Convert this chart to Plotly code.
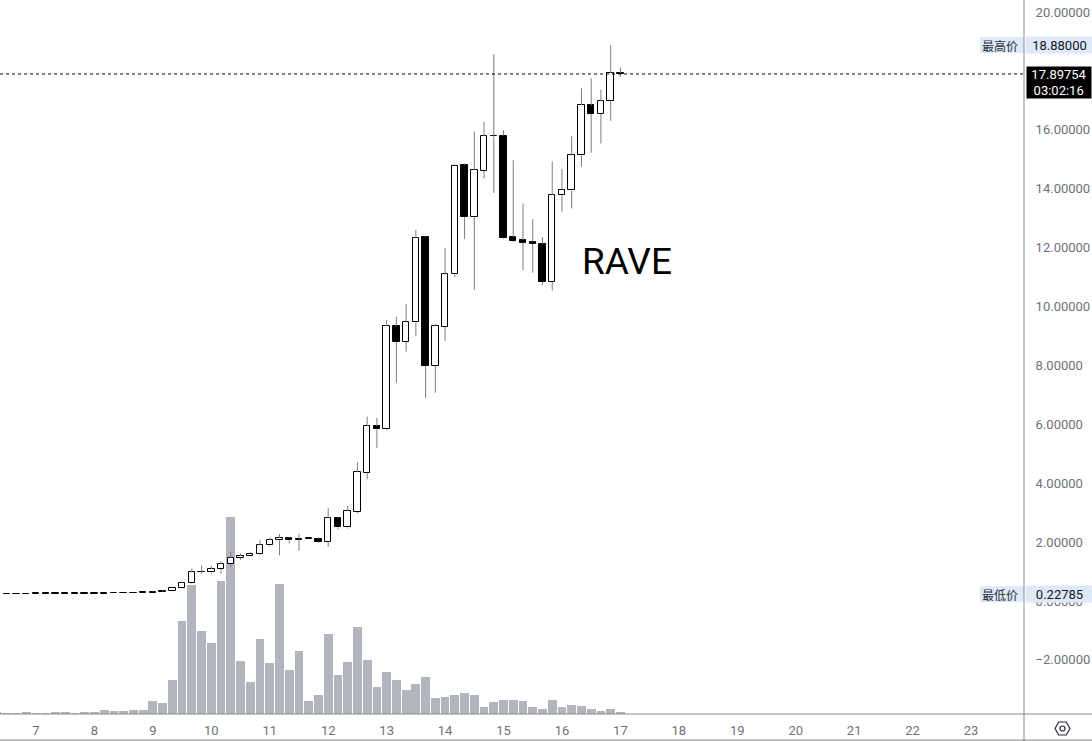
import plotly.graph_objects as go
import pandas as pd

# 4小时K线，第一根 12-06 08:00
start_time = "2025-12-06 08:00"

opens = [0.230, 0.232, 0.235, 0.233, 0.238, 0.240, 0.239, 0.243, 0.245, 0.247, 0.250, 0.252, 0.258, 0.262, 0.265, 0.270,
         0.285, 0.32, 0.34, 0.43, 0.60, 0.98, 0.97, 1.08, 1.25, 1.45, 1.53, 1.60, 1.89, 2.06, 2.14, 2.11, 2.11, 2.12,
         2.01, 2.81, 2.50, 3.03, 4.36, 5.94, 5.83, 9.33, 8.80, 9.46, 12.36, 7.99, 9.31, 11.09, 14.80, 13.05, 14.61,
         15.78, 15.80, 12.36, 12.26, 12.20, 12.12, 10.84, 13.78, 13.95, 15.13, 16.83, 16.54, 16.97, 17.92]
highs = [0.236, 0.238, 0.240, 0.241, 0.243, 0.244, 0.246, 0.249, 0.250, 0.253, 0.256, 0.262, 0.266, 0.270, 0.276, 0.290,
         0.34, 0.36, 0.45, 0.64, 1.11, 1.21, 1.19, 1.35, 1.66, 1.62, 1.66, 2.07, 2.15, 2.28, 2.17, 2.28, 2.14, 2.16,
         3.16, 2.84, 3.23, 4.71, 6.26, 6.22, 9.54, 9.65, 10.08, 12.60, 12.40, 9.40, 11.98, 14.84, 14.86, 15.94, 16.28,
         18.57, 15.99, 14.97, 13.50, 12.97, 12.35, 14.92, 14.67, 15.79, 17.41, 17.75, 17.37, 18.88, 18.12]
lows = [0.22785, 0.2285, 0.231, 0.230, 0.234, 0.236, 0.235, 0.239, 0.241, 0.243, 0.246, 0.248, 0.252, 0.256, 0.260, 0.265,
        0.28, 0.30, 0.33, 0.42, 0.58, 0.92, 0.92, 0.92, 1.16, 1.39, 1.52, 1.58, 1.86, 1.55, 1.96, 1.71, 2.09, 1.98,
        1.84, 2.43, 2.46, 2.98, 4.13, 5.19, 5.80, 7.41, 8.47, 9.01, 6.90, 7.07, 8.84, 10.99, 12.29, 10.56, 14.35,
        13.86, 12.30, 12.20, 11.24, 11.15, 10.73, 10.54, 13.22, 13.33, 14.75, 15.22, 15.54, 16.31, 17.80]
closes = [0.232, 0.235, 0.233, 0.238, 0.240, 0.239, 0.243, 0.245, 0.247, 0.250, 0.252, 0.258, 0.262, 0.265, 0.270, 0.285,
          0.32, 0.33, 0.43, 0.61, 0.98, 0.99, 1.09, 1.26, 1.45, 1.53, 1.61, 1.90, 2.07, 2.14, 2.06, 2.06, 2.12, 2.01,
          2.81, 2.50, 3.05, 4.37, 5.93, 5.83, 9.33, 8.80, 9.46, 12.32, 7.99, 9.34, 11.09, 14.77, 13.05, 14.63, 15.79,
          15.80, 12.34, 12.23, 12.17, 12.11, 10.84, 13.79, 13.95, 15.13, 16.83, 16.54, 16.97, 17.92, 17.89754]
volumes = [1.3, 1, 1, 2, 1, 1, 2, 2, 1, 2, 2, 3.7, 3, 3, 4, 4,
           13, 11, 34, 93, 129, 83, 71, 133, 197, 53, 32, 75, 51, 130, 44, 63, 13, 19,
           80, 39, 52, 87, 54, 27, 42, 34, 24, 30, 37, 16, 17, 19, 21, 19, 7,
           12, 14, 14, 13, 7, 5, 14, 7, 9, 8, 5, 3, 5, 2]

symbol = "RAVE"
last_price = 17.89754
countdown = "03:02:16"
high_price = 18.88
low_price = 0.22785
price_ticks = [-2, 0, 2, 4, 6, 8, 10, 12, 14, 16, 18, 20]

times = pd.date_range(start_time, periods=len(opens), freq="4h")
period_ms = 4 * 3600 * 1000

# 颜色
GRAY_TEXT = "#6f7079"
AXIS_LINE = "#8c8c8c"
VOL_COLOR = "#b2b5be"
BAND_BLUE = "#dde9f8"

fig = go.Figure()

# 成交量（底层）
fig.add_trace(go.Bar(
    x=times, y=volumes, width=period_ms * 0.9,
    marker=dict(color=VOL_COLOR, line=dict(width=0)),
    yaxis="y", hoverinfo="skip", showlegend=False
))

# 影线：上下两段，避开实体
wx, wy = [], []
for t, o, h, l, c in zip(times, opens, highs, lows, closes):
    top, bot = max(o, c), min(o, c)
    wx += [t, t, None, t, t, None]
    wy += [h, top, None, bot, l, None]
fig.add_trace(go.Scatter(
    x=wx, y=wy, mode="lines", line=dict(color="#7d7d7d", width=1),
    yaxis="y2", hoverinfo="skip", showlegend=False
))

# 实体
body_base = [min(o, c) for o, c in zip(opens, closes)]
body_size = [max(abs(c - o), 0.02) for o, c in zip(opens, closes)]
body_fill = ["#ffffff" if c >= o else "#000000" for o, c in zip(opens, closes)]
fig.add_trace(go.Bar(
    x=times, y=body_size, base=body_base, width=period_ms * 0.66,
    marker=dict(color=body_fill, line=dict(color="#000000", width=1)),
    yaxis="y2", showlegend=False,
    customdata=list(zip(opens, highs, lows, closes)),
    hovertemplate="O %{customdata[0]}<br>H %{customdata[1]}<br>L %{customdata[2]}<br>C %{customdata[3]}<extra></extra>"
))

vol_max = max(volumes)

fig.update_layout(
    width=1092, height=741,
    margin=dict(l=0, r=68, t=0, b=27),
    paper_bgcolor="white", plot_bgcolor="white",
    barmode="overlay", bargap=0,
    showlegend=False,
    font=dict(family="Roboto, Noto Sans CJK SC", size=13, color=GRAY_TEXT),
    xaxis=dict(
        type="date",
        range=["2025-12-06 09:13", "2025-12-23 21:45"],
        tick0="2025-12-07", dtick=86400000, tickformat="%-d",
        showgrid=False, zeroline=False, showline=False,
        ticks="outside", ticklen=4, tickcolor="rgba(0,0,0,0)",
        tickfont=dict(size=13, color=GRAY_TEXT),
    ),
    yaxis=dict(
        range=[0, vol_max * 714 / 197],
        visible=False, fixedrange=True,
    ),
    yaxis2=dict(
        overlaying="y", side="right",
        range=[-3.837, 20.41],
        tickvals=price_ticks, tickformat=".5f",
        showgrid=False, zeroline=False, showline=False,
        ticks="outside", ticklen=8, tickcolor="rgba(0,0,0,0)",
        tickfont=dict(size=13, color=GRAY_TEXT),
    ),
)

shapes = [
    # 最新价虚线
    dict(type="line", xref="paper", yref="y2", x0=0, x1=1, y0=last_price, y1=last_price,
         line=dict(color="#000000", width=1, dash="dot")),
    # 最高/最低价底色（左半段）
    dict(type="rect", xref="paper", yref="y2", x0=980 / 1024, x1=1,
         ysizemode="pixel", yanchor=high_price, y0=-8, y1=8,
         fillcolor=BAND_BLUE, line=dict(width=0), layer="below"),
    dict(type="rect", xref="paper", yref="y2", x0=980 / 1024, x1=1,
         ysizemode="pixel", yanchor=low_price, y0=-8, y1=8,
         fillcolor=BAND_BLUE, line=dict(width=0), layer="below"),
    # 坐标轴边框
    dict(type="line", xref="paper", yref="paper", x0=0, x1=1092 / 1024, y0=0, y1=0,
         line=dict(color=AXIS_LINE, width=1)),
    dict(type="line", xref="paper", yref="paper", x0=0, x1=1092 / 1024, y0=-26 / 714, y1=-26 / 714,
         line=dict(color=AXIS_LINE, width=1)),
    dict(type="line", xref="paper", yref="paper", x0=1, x1=1, y0=-27 / 714, y1=1,
         line=dict(color=AXIS_LINE, width=1)),
    # 设置图标
    dict(type="path", xref="paper", yref="paper", xsizemode="pixel", ysizemode="pixel",
         xanchor=1062.5 / 1024, yanchor=-14.5 / 714,
         path="M -7.5,0 L -3.8,6.5 L 3.8,6.5 L 7.5,0 L 3.8,-6.5 L -3.8,-6.5 Z",
         line=dict(color="#2a2e39", width=1.2)),
    dict(type="circle", xref="paper", yref="paper", xsizemode="pixel", ysizemode="pixel",
         xanchor=1062.5 / 1024, yanchor=-14.5 / 714, x0=-2.5, x1=2.5, y0=-2.5, y1=2.5,
         line=dict(color="#2a2e39", width=1.2)),
]
fig.update_layout(shapes=shapes)

fig.add_annotation(
    text=symbol, xref="paper", yref="paper", x=626.7 / 1024, y=1 - 261 / 714,
    showarrow=False, font=dict(family="Roboto", size=37, color="#000000")
)
fig.add_annotation(
    text=f"{last_price:.5f}<br>{countdown}", xref="paper", yref="y2", x=1, y=last_price,
    xanchor="left", yanchor="top", xshift=2, yshift=8,
    width=64, height=31, borderpad=0, align="center",
    bgcolor="#000000", showarrow=False,
    font=dict(family="Roboto", size=13, color="#ffffff")
)
for label, price in [("最高价", high_price), ("最低价", low_price)]:
    fig.add_annotation(
        text=label, xref="paper", yref="y2", x=1, y=price, xanchor="right", xshift=-4,
        showarrow=False, font=dict(family="Noto Sans CJK SC", size=12, color="#2a2e39")
    )
    # 价格标签带底色，盖住下面的刻度文字
    fig.add_annotation(
        text=f"{price:.5f}", xref="paper", yref="y2", x=1, y=price, xanchor="left", xshift=1,
        width=67, height=16, borderpad=0, align="center", bgcolor=BAND_BLUE,
        showarrow=False, font=dict(family="Roboto", size=13, color="#131722")
    )

fig.write_html("out.html", config={"displayModeBar": False},
               post_script="document.body.style.margin='0';")
